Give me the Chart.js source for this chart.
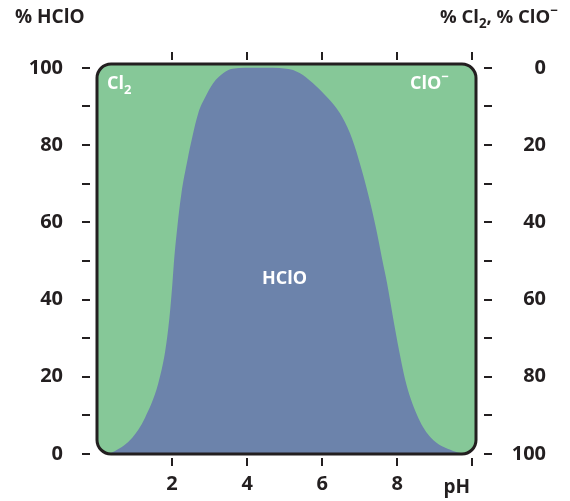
<!DOCTYPE html>
<html>
<head>
<meta charset="utf-8">
<script src="https://cdn.jsdelivr.net/npm/chart.js@4"></script>
<style>
  body { margin: 0; background: #fff; }
  #wrap { width: 570px; height: 501px; }
</style>
</head>
<body>
<div id="wrap"><canvas id="grafica"></canvas></div>
<script>
// Значения pH и доля HClO (%)
const phValues = [0, 0.21, 0.48, 0.94, 1.28, 1.63, 1.82, 1.93, 2.01, 2.06, 2.14, 2.25, 2.41, 2.54, 2.70, 2.89, 3.10, 3.37, 3.61, 4.3, 5.05, 5.40, 5.75, 6.12, 6.47, 6.74, 6.98, 7.22, 7.43, 7.59, 7.73, 7.89, 8.05, 8.24, 8.56, 8.90, 9.49, 9.92, 10.1];
const hcloPercent = [0, 0, 0.8, 4.2, 9.4, 18.2, 26.8, 35.3, 44.2, 50.9, 58.7, 67.5, 76.1, 82.1, 88.3, 92.5, 96.1, 98.7, 99.8, 100, 99.8, 98.7, 96.1, 92.5, 88.3, 83.1, 76.1, 67.5, 58.7, 50.9, 44.2, 35.3, 26.8, 18.2, 9.4, 4.2, 0.8, 0, 0];

// Деления осей
const xTickValues = [2, 4, 6, 8, 10];
const xTickLabels = ['2', '4', '6', '8', ''];
const yTickValues = [0, 10, 20, 30, 40, 50, 60, 70, 80, 90, 100];
const yLabelStep = 20;

const GREEN = '#86c898';
const BLUE = '#6c83ab';
const INK = '#231f20';
const FONT = '"Open Sans", sans-serif';

function roundRectPath(ctx, a, r) {
  ctx.beginPath();
  ctx.roundRect(a.left, a.top, a.right - a.left, a.bottom - a.top, r);
}

// Текст с индексами (нижний/верхний)
function drawParts(ctx, parts, x, y, size, color) {
  ctx.fillStyle = color;
  ctx.textBaseline = 'alphabetic';
  ctx.textAlign = 'left';
  let cx = x;
  parts.forEach(p => {
    const s = p.sub || p.sup ? size * 0.72 : size;
    ctx.font = '700 ' + s + 'px ' + FONT;
    const dy = p.sub ? size * 0.25 : p.sup ? -size * 0.42 : 0;
    ctx.fillText(p.t, cx, y + dy);
    cx += ctx.measureText(p.t).width;
  });
}

const boxPlugin = {
  id: 'box',
  beforeDatasetsDraw(chart) {
    const ctx = chart.ctx, a = chart.chartArea;
    ctx.save();
    roundRectPath(ctx, a, 14);
    ctx.fillStyle = GREEN;
    ctx.fill();
    ctx.clip();
  },
  afterDatasetsDraw(chart) {
    const ctx = chart.ctx, a = chart.chartArea;
    ctx.restore();
    ctx.save();
    roundRectPath(ctx, a, 14);
    ctx.lineWidth = 3;
    ctx.strokeStyle = INK;
    ctx.stroke();

    // короткие деления, отделённые от рамки
    ctx.lineWidth = 2;
    ctx.beginPath();
    const s = chart.scales;
    s.y.ticks.forEach(t => {
      const py = Math.round(s.y.getPixelForValue(t.value));
      ctx.moveTo(a.left - 15, py); ctx.lineTo(a.left - 7, py);
    });
    s.y2.ticks.forEach(t => {
      const py = Math.round(s.y2.getPixelForValue(t.value));
      ctx.moveTo(a.right + 8, py); ctx.lineTo(a.right + 16, py);
    });
    s.x.ticks.forEach(t => {
      const px = Math.round(s.x.getPixelForValue(t.value));
      ctx.moveTo(px, a.bottom + 4); ctx.lineTo(px, a.bottom + 12);
    });
    s.xTop.ticks.forEach(t => {
      const px = Math.round(s.xTop.getPixelForValue(t.value));
      ctx.moveTo(px, a.top - 12); ctx.lineTo(px, a.top - 4);
    });
    ctx.stroke();

    // подписи
    drawParts(ctx, [{t: '% HClO'}], 15, 23, 19, INK);
    drawParts(ctx, [{t: '% Cl'}, {t: '2', sub: true}, {t: ', % ClO'}, {t: '−', sup: true}], 440, 23, 18.5, INK);
    ctx.font = '700 19px ' + FONT;
    ctx.textAlign = 'right';
    ctx.fillText('pH', 470, 493);
    drawParts(ctx, [{t: 'Cl'}, {t: '2', sub: true}], 107, 89, 18, '#fff');
    drawParts(ctx, [{t: 'ClO'}, {t: '−', sup: true}], 410, 89, 18, '#fff');
    drawParts(ctx, [{t: 'HClO'}], 262, 284, 18, '#fff');
    ctx.restore();
  }
};

const tickFont = { family: FONT, size: 20, weight: '700' };
const noGrid = { display: false, drawTicks: false };

const myChart = new Chart(document.getElementById('grafica'), {
  type: 'line',
  data: {
    datasets: [{
      label: 'HClO',
      data: phValues.map((p, i) => ({ x: p, y: hcloPercent[i] })),
      backgroundColor: BLUE,
      borderWidth: 0,
      pointRadius: 0,
      fill: 'origin',
      cubicInterpolationMode: 'monotone'
    }]
  },
  options: {
    responsive: true,
    maintainAspectRatio: false,
    animation: false,
    layout: { padding: { left: 27, right: 24, top: 64, bottom: 0 } },
    plugins: { legend: { display: false }, tooltip: { enabled: false } },
    scales: {
      x: {
        type: 'linear', position: 'bottom', min: 0, max: 10.1,
        afterBuildTicks: sc => { sc.ticks = xTickValues.map(v => ({ value: v })); },
        afterFit: sc => { sc.height = 47; },
        grid: noGrid, border: { display: false },
        ticks: { font: tickFont, color: INK, padding: 18,
          callback: (v) => xTickLabels[xTickValues.indexOf(v)] }
      },
      xTop: {
        type: 'linear', position: 'top', min: 0, max: 10.1,
        afterBuildTicks: sc => { sc.ticks = xTickValues.map(v => ({ value: v })); },
        afterFit: sc => { sc.height = 0; },
        grid: noGrid, border: { display: false },
        ticks: { display: false }
      },
      y: {
        position: 'left', min: 0, max: 101,
        afterBuildTicks: sc => { sc.ticks = yTickValues.map(v => ({ value: v })); },
        afterFit: sc => { sc.width = 70; },
        grid: noGrid, border: { display: false },
        ticks: { font: tickFont, color: INK, padding: 34,
          callback: v => v % yLabelStep === 0 ? String(v) : '' }
      },
      y2: {
        position: 'right', min: -1, max: 100, reverse: true,
        afterBuildTicks: sc => { sc.ticks = yTickValues.map(v => ({ value: v })); },
        afterFit: sc => { sc.width = 70; },
        grid: noGrid, border: { display: false },
        ticks: { font: tickFont, color: INK, padding: 34, crossAlign: 'far',
          callback: v => v % yLabelStep === 0 ? String(v) : '' }
      }
    }
  },
  plugins: [boxPlugin]
});
</script>
</body>
</html>
